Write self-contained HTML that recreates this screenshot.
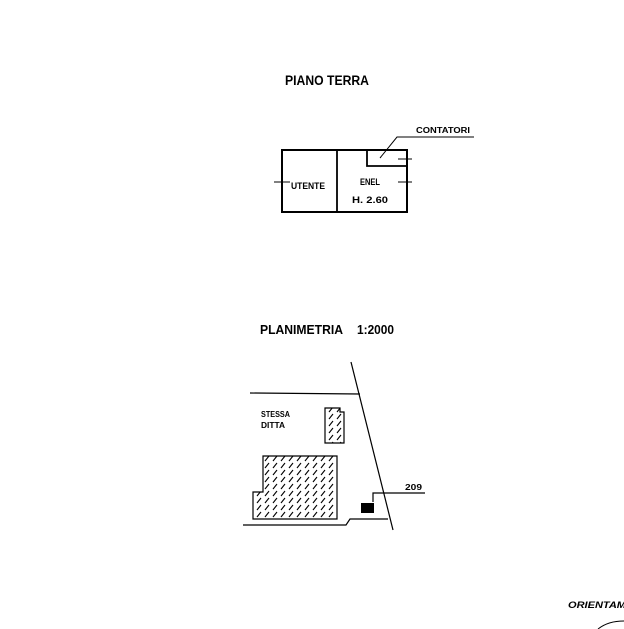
<!DOCTYPE html>
<html><head><style>
html,body{margin:0;padding:0;background:#fff;}
svg{display:block;}
text{font-family:"Liberation Sans",sans-serif;font-weight:bold;fill:#000;}
</style></head><body>
<svg width="624" height="629" viewBox="0 0 624 629" xmlns="http://www.w3.org/2000/svg">
<defs>
<pattern id="h" width="8" height="7" patternUnits="userSpaceOnUse">
<path d="M1,6 L5,1" stroke="#000" stroke-width="1.1"/>
</pattern>
</defs>
<text x="285" y="85" font-size="13.5" textLength="84" lengthAdjust="spacingAndGlyphs">PIANO  TERRA</text>
<g stroke="#000" fill="none">
<rect x="282" y="150" width="125" height="62" stroke-width="2"/>
<line x1="337" y1="150" x2="337" y2="212" stroke-width="1.8"/>
<polyline points="367,150 367,166 407,166" stroke-width="1.8"/>
<line x1="274" y1="182" x2="290" y2="182" stroke-width="1"/>
<line x1="398" y1="159" x2="412" y2="159" stroke-width="1"/>
<line x1="398" y1="182" x2="412" y2="182" stroke-width="1"/>
<polyline points="380,158 397,137 474,137" stroke-width="1"/>
</g>
<text x="416" y="133" font-size="8" textLength="54" lengthAdjust="spacingAndGlyphs">CONTATORI</text>
<text x="291" y="189" font-size="9" textLength="34" lengthAdjust="spacingAndGlyphs">UTENTE</text>
<text x="360" y="185" font-size="9" textLength="20" lengthAdjust="spacingAndGlyphs">ENEL</text>
<text x="352" y="203" font-size="9" textLength="36" lengthAdjust="spacingAndGlyphs">H. 2.60</text>

<text x="260" y="334" font-size="13" textLength="83" lengthAdjust="spacingAndGlyphs">PLANIMETRIA</text>
<text x="357" y="334" font-size="13" textLength="37" lengthAdjust="spacingAndGlyphs">1:2000</text>

<g stroke="#000" fill="none" stroke-width="1.2">
<line x1="250" y1="393" x2="360" y2="394"/>
<line x1="351" y1="362" x2="393" y2="530"/>
<polygon points="325,408 340,408 340,412 344,412 344,443 325,443" fill="url(#h)"/>
<polygon points="263,456 337,456 337,519 253,519 253,492 263,492" fill="url(#h)"/>
<polyline points="243,525 346,525 350,519 388,519"/>
<polyline points="373,502 373,493 425,493"/>
</g>
<rect x="361" y="503" width="13" height="10" fill="#000"/>
<text x="261" y="417" font-size="8.5" textLength="29" lengthAdjust="spacingAndGlyphs">STESSA</text>
<text x="261" y="428" font-size="8.5" textLength="24" lengthAdjust="spacingAndGlyphs">DITTA</text>
<text x="405" y="490" font-size="8.5" textLength="17" lengthAdjust="spacingAndGlyphs">209</text>

<text x="568" y="608" font-size="9" font-style="italic" textLength="58" lengthAdjust="spacingAndGlyphs">ORIENTAM</text>
<path d="M598,629 Q608,621 624,621" stroke="#000" fill="none" stroke-width="1"/>
</svg>
</body></html>
